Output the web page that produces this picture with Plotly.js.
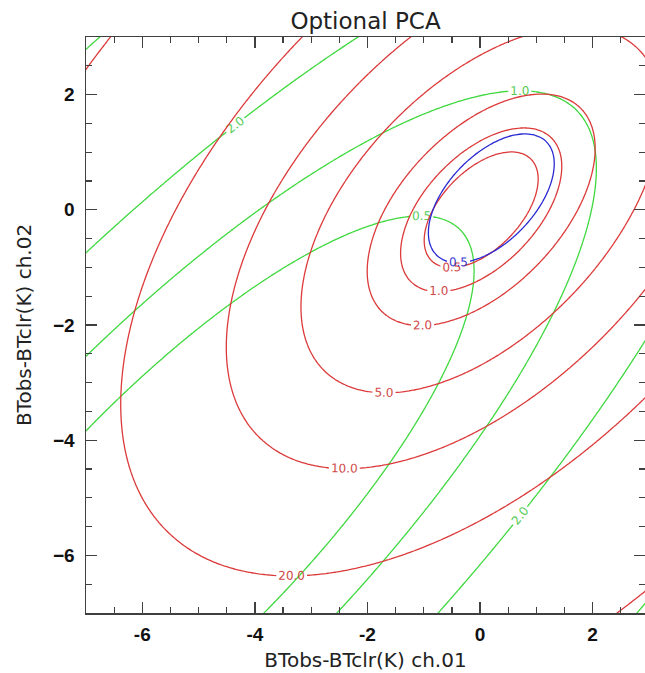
<!DOCTYPE html>
<html><head><meta charset="utf-8">
<script src="https://cdn.plot.ly/plotly-3.0.1.min.js"></script>
<style>html,body{margin:0;padding:0;background:#fff}</style>
</head><body><div id="chart" style="width:645px;height:673px"></div>
<script>
// ---- data ----
const xRange = [-7, 2.93];
const yRange = [-7, 3];
const xTicks = [-6, -4, -2, 0, 2];
const yTicks = [-6, -4, -2, 0, 2];
const redLevels = [0.5, 1, 2, 5, 10, 20, 50];
const greenLevels = [0.5, 1, 2, 5, 10, 20, 50];
const blueLevels = [0.5];
// quadratic-form fields z = d' * inv(Cov) * d, d = (x,y) - center
const redCenter = [0.02, 0.0];
const redCov = [[2.05, 1.08], [1.08, 2.02]];
const greenCenter = [-5.35, -5.35];
const greenCov = [[55, 45], [45, 55]];
const blueCenter = [0.2, 0.2];
const blueCov = [[2.5, 1.34], [1.34, 2.5]];
const titleText = 'Optional PCA';
const xTitle = 'BTobs-BTclr(K) ch.01';
const yTitle = 'BTobs-BTclr(K) ch.02';

function grid(a, b, n){ const o=[]; for(let i=0;i<n;i++) o.push(a+(b-a)*i/(n-1)); return o; }
const gx = grid(-7.3, 3.3, 266);
const gy = grid(-7.3, 3.3, 266);
function field(c, S){
  const det = S[0][0]*S[1][1]-S[0][1]*S[1][0];
  const a = S[1][1]/det, b = -S[0][1]/det, d = S[0][0]/det;
  return gy.map(y => gx.map(x => { const dx=x-c[0], dy=y-c[1]; return a*dx*dx+2*b*dx*dy+d*dy*dy; }));
}
const zRed = field(redCenter, redCov);
const zGreen = field(greenCenter, greenCov);
const zBlue = field(blueCenter, blueCov);

function levelTraces(z, lv, color, labelColor){
  return lv.map(L => ({
    type: 'contour', x: gx, y: gy, z: z,
    autocontour: false,
    contours: {start: L, end: L, size: 1, coloring: 'none', showlabels: true,
      labelformat: '.1f', labelfont: {family: 'DejaVu Sans', size: 12, color: labelColor}},
    line: {color: color, width: 1.3, smoothing: 1},
    showscale: false, hoverinfo: 'skip'
  }));
}
const traces = [].concat(
  levelTraces(zGreen, greenLevels, '#3fd83f', '#55cc55'),
  levelTraces(zRed, redLevels, '#dc3a3a', '#d04848'),
  levelTraces(zBlue, blueLevels, '#2a2ad2', '#3a3ad0')
);

const axisBase = {
  showgrid: false, zeroline: false, showline: true, linecolor: '#404040', linewidth: 1.5,
  mirror: 'ticks', ticks: 'inside', ticklen: 11, tickwidth: 1.3, tickcolor: '#404040',
  tickfont: {family: 'Liberation Sans', size: 19, color: '#111', weight: 'bold'},
  minor: {dtick: 0.5, ticks: 'inside', ticklen: 6, tickwidth: 1.2, tickcolor: '#404040', showgrid: false}
};
const layout = {
  width: 645, height: 673,
  margin: {l: 86, r: 0, t: 37, b: 60},
  paper_bgcolor: '#fff', plot_bgcolor: '#fff',
  showlegend: false,
  title: {text: titleText, x: 0.5, xref: 'paper', y: 1 - 21/673, yref: 'container', yanchor: 'middle',
    font: {family: 'DejaVu Sans', size: 23, color: '#222'}},
  xaxis: Object.assign({}, axisBase, {range: xRange, tickvals: xTicks, ticktext: xTicks.map(String),
    ticklabelstandoff: 4,
    title: {text: xTitle, standoff: 8, font: {family: 'DejaVu Sans', size: 20, color: '#222'}}}),
  yaxis: Object.assign({}, axisBase, {range: yRange, tickvals: yTicks,
    ticklabelstandoff: 6,
    title: {text: yTitle, standoff: 16, font: {family: 'DejaVu Sans', size: 20, color: '#222'}}})
};
Plotly.newPlot('chart', traces, layout, {staticPlot: true, displayModeBar: false});
</script>
</body></html>
